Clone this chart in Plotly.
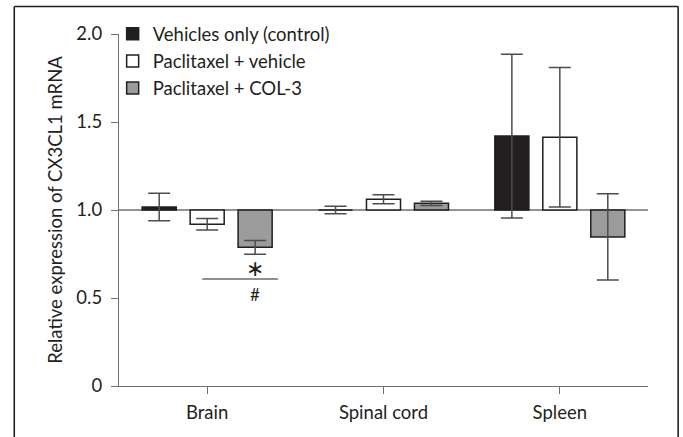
import plotly.graph_objects as go

# ---- data ----
categories = ["Brain", "Spinal cord", "Spleen"]
series_names = ["Vehicles only (control)", "Paclitaxel + vehicle", "Paclitaxel + COL-3"]
control = [1.017, 1.0, 1.420]
control_err = [0.078, 0.022, 0.465]
pac_vehicle = [0.919, 1.061, 1.413]
pac_vehicle_err = [0.033, 0.025, 0.396]
pac_col3 = [0.788, 1.038, 0.847]
pac_col3_err = [0.039, 0.012, 0.245]
y_tickvals = [0, 0.5, 1.0, 1.5, 2.0]
y_ticktext = ["0", "0.5", "1.0", "1.5", "2.0"]
baseline = 1.0

# ---- style ----
FONT = "Lato"
TXT = "#231f20"
AX = "#6f6f6f"
fills = ["#231f20", "#ffffff", "#9b9b9b"]
err_col = ["#4d4d4d", "#4d4d4d", "#4d4d4d"]

fig = go.Figure()
for name, vals, errs, fc, ec in zip(series_names,
                                    [control, pac_vehicle, pac_col3],
                                    [control_err, pac_vehicle_err, pac_col3_err],
                                    fills, err_col):
    fig.add_trace(go.Bar(
        name=name,
        x=categories,
        y=[v - baseline for v in vals],
        base=baseline,
        marker=dict(color=fc, line=dict(color=TXT, width=1.5)),
        error_y=dict(type="data", array=errs, visible=True,
                     color=ec, thickness=1.5, width=11),
    ))

# reference line at 1.0
fig.add_shape(type="line", xref="paper", yref="y", x0=0, x1=1,
              y0=baseline, y1=baseline, line=dict(color=AX, width=1.3),
              layer="below")

# significance marks (Brain group)
fig.add_shape(type="line", xref="x", yref="y", x0=-0.028, x1=0.401,
              y0=0.608, y1=0.608, line=dict(color=TXT, width=1.2))
fig.add_annotation(x=0.27, y=0.665, xref="x", yref="y", text="∗",
                   showarrow=False, font=dict(family="DejaVu Sans", size=22, color=TXT))
fig.add_annotation(x=0.27, y=0.52, xref="x", yref="y", text="#",
                   showarrow=False, font=dict(family=FONT, size=17, color=TXT))

# outer frame (open at the bottom, as in the reference)
frame_x0, frame_x1, frame_top, frame_bot = -0.198, 1.057, 1.078, -0.2
for (xa, ya, xb, yb) in [(frame_x0, frame_bot, frame_x0, frame_top),
                         (frame_x0, frame_top, frame_x1, frame_top),
                         (frame_x1, frame_top, frame_x1, frame_bot)]:
    fig.add_shape(type="line", xref="paper", yref="paper",
                  x0=xa, y0=ya, x1=xb, y1=yb,
                  line=dict(color=TXT, width=1.6), layer="above")

fig.update_layout(
    width=683, height=437,
    margin=dict(l=119, r=35, t=34, b=51),
    paper_bgcolor="white", plot_bgcolor="white",
    barmode="group", bargap=0.184, bargroupgap=0.29,
    font=dict(family=FONT, size=18.5, color=TXT),
    showlegend=True,
    legend=dict(x=-0.012, y=1.053, xanchor="left", yanchor="top",
                bgcolor="rgba(0,0,0,0)", font=dict(family=FONT, size=18.5, color=TXT),
                itemwidth=30, tracegroupgap=0),
    xaxis=dict(range=[-0.5, 2.5], showline=True, linecolor=AX, linewidth=1.3,
               ticks="outside", ticklen=7, tickcolor=AX, tickwidth=1.3,
               showgrid=False, zeroline=False, ticklabelstandoff=3,
               tickfont=dict(family=FONT, size=18.5, color=TXT)),
    yaxis=dict(range=[0, 2.0], tickvals=y_tickvals, ticktext=y_ticktext,
               showline=True, linecolor=AX, linewidth=1.3,
               ticks="outside", ticklen=7, tickcolor=AX, tickwidth=1.3,
               showgrid=False, zeroline=False, ticklabelstandoff=5,
               tickfont=dict(family=FONT, size=18.5, color=TXT),
               title=dict(text="Relative expression of CX3CL1 mRNA",
                          font=dict(family=FONT, size=18.5, color=TXT), standoff=8)),
)

fig.write_html("out.html", config={"displayModeBar": False},
               post_script="document.body.style.margin='0';document.body.style.overflow='hidden';")
